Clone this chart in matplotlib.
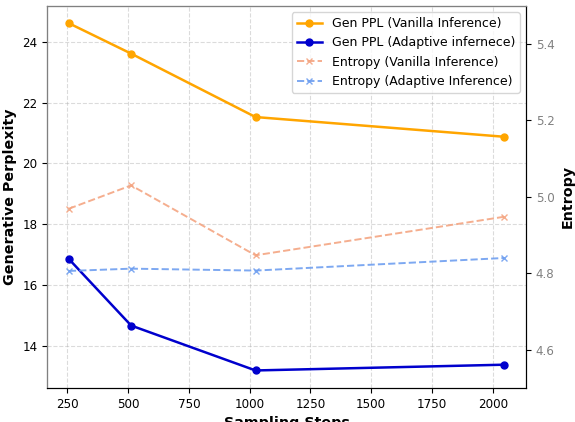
import matplotlib.pyplot as plt

# data
steps = [256, 512, 1024, 2048]
ppl_vanilla = [24.62, 23.62, 21.53, 20.88]
ppl_adaptive = [16.85, 14.66, 13.18, 13.37]
ent_vanilla = [4.969, 5.030, 4.847, 4.948]
ent_adaptive = [4.806, 4.812, 4.807, 4.840]

fig = plt.figure(figsize=(5.75, 4.22), dpi=100)
ax = fig.add_axes([0.082, 0.081, 0.833, 0.905])
ax2 = ax.twinx()

l1, = ax.plot(steps, ppl_vanilla, marker='o', color='orange', linewidth=1.8,
              markersize=5, label='Gen PPL (Vanilla Inference)')
l2, = ax.plot(steps, ppl_adaptive, marker='o', color='mediumblue', linewidth=1.8,
              markersize=5, label='Gen PPL (Adaptive infernece)')
l3, = ax2.plot(steps, ent_vanilla, marker='x', linestyle='--', color='#f4a582',
               linewidth=1.4, markersize=5, alpha=0.9, label='Entropy (Vanilla Inference)')
l4, = ax2.plot(steps, ent_adaptive, marker='x', linestyle='--', color='#6f9ff0',
               linewidth=1.4, markersize=5, alpha=0.9, label='Entropy (Adaptive Inference)')

ax.set_xlabel('Sampling Steps', fontsize=10.3, fontweight='bold')
ax.set_ylabel('Generative Perplexity', fontsize=10.3, fontweight='bold')
ax2.set_ylabel('Entropy', fontsize=10.3, fontweight='bold')
ax2.set_ylim(4.5, 5.5)
ax2.set_yticks([4.6, 4.8, 5.0, 5.2, 5.4])
ax2.tick_params(axis='y', labelcolor='gray', labelsize=8.6)
ax.tick_params(labelsize=8.6)
ax.set_xticks([250, 500, 750, 1000, 1250, 1500, 1750, 2000])

ax.grid(True, linestyle='--', alpha=0.45)
for s in ['left', 'top']:
    ax2.spines[s].set_color('gray')

ax.legend(handles=[l1, l2, l3, l4], loc='upper right', fontsize=9)

fig.savefig('out.png', dpi=100)
